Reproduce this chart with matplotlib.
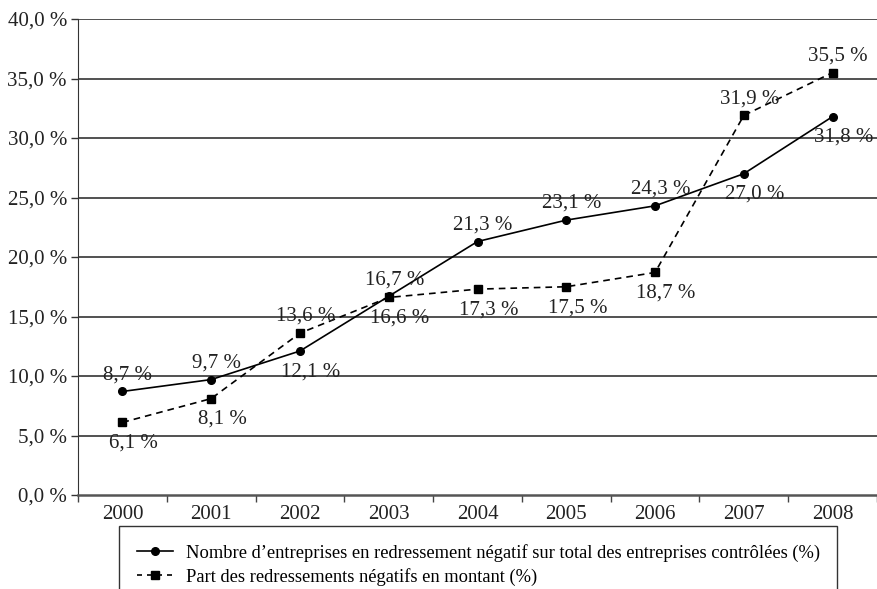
import numpy as np
import matplotlib
matplotlib.use("Agg")
import matplotlib.pyplot as plt
from matplotlib.lines import Line2D
from matplotlib.ticker import FuncFormatter, FixedLocator

# data
years = ["2000", "2001", "2002", "2003", "2004", "2005", "2006", "2007", "2008"]
nombre = [8.7, 9.7, 12.1, 16.7, 21.3, 23.1, 24.3, 27.0, 31.8]
montant = [6.1, 8.1, 13.6, 16.6, 17.3, 17.5, 18.7, 31.9, 35.5]
nombre_pos = ["above", "above", "below", "above", "above", "above", "above", "below", "below"]
montant_pos = ["below", "below", "above", "below", "below", "below", "below", "above", "above"]
legend_labels = [
    "Nombre d\u2019entreprises en redressement n\u00e9gatif sur total des entreprises contr\u00f4l\u00e9es (%)",
    "Part des redressements n\u00e9gatifs en montant (%)",
]

plt.rcParams['font.family'] = ['Liberation Serif', 'DejaVu Serif']

W, H = 877, 589
fig = plt.figure(figsize=(W / 100, H / 100), dpi=100)
ax = fig.add_axes([78 / W, 1 - 495 / H, (877 - 78) / W, (495 - 19) / H])

x = np.arange(len(years))

ax.plot(x, nombre, color='black', lw=1.2, marker='o', ms=5.5, zorder=3)
ax.plot(x, montant, color='black', lw=1.2, ls=(0, (4, 3)), marker='s', ms=5.5, zorder=3)


def pct(v):
    return f"{v:.1f}".replace('.', ',') + " %"


def put_labels(vals, pos):
    for i, (v, p) in enumerate(zip(vals, pos)):
        if p == "above":
            off = (4, 12)
        else:
            off = (8, -15)
        ax.annotate(pct(v), (x[i], v), xytext=off, textcoords='offset points',
                    ha='center', va='center', fontsize=15, color='#222222',
                    annotation_clip=False)


put_labels(nombre, nombre_pos)
put_labels(montant, montant_pos)

# axes
ax.set_xlim(-0.5, 8.5)
ax.set_ylim(0, 40)
yt = np.arange(0, 41, 5)
ax.set_yticks(yt)
ax.yaxis.set_major_formatter(FuncFormatter(lambda v, _: pct(v)))
ax.tick_params(axis='y', direction='out', length=5, width=1, pad=3, labelsize=15,
               color='#333333', labelcolor='#222222')
for v in yt[1:]:
    ax.axhline(v, color='#222222', lw=1.1, zorder=1)

ax.set_xticks(x)
ax.set_xticklabels(years)
ax.xaxis.set_minor_locator(FixedLocator(np.arange(-0.5, 9, 1)))
ax.tick_params(axis='x', which='major', length=0, pad=7, labelsize=15, labelcolor='#222222')
ax.tick_params(axis='x', which='minor', direction='out', length=5, width=1, color='#444444')

for s in ['top', 'right']:
    ax.spines[s].set_visible(False)
ax.spines['left'].set_color('#333333')
ax.spines['bottom'].set_color('#555555')
ax.spines['bottom'].set_linewidth(1.8)

handles = [
    Line2D([], [], color='black', lw=1.2, marker='o', ms=5.5),
    Line2D([], [], color='black', lw=1.2, ls=(0, (3, 3)), marker='s', ms=5.5),
]
leg = fig.legend(handles, legend_labels, loc='upper left',
                 bbox_to_anchor=(119 / W, 1 - 532 / H, (837 - 119) / W, 0.01),
                 mode='expand', fontsize=13.3, frameon=True, fancybox=False,
                 edgecolor='black', handlelength=2.0, handletextpad=0.65,
                 borderaxespad=0, borderpad=0.95, labelspacing=0.34)
leg.get_frame().set_linewidth(1.0)

fig.savefig("out.png", dpi=100)
